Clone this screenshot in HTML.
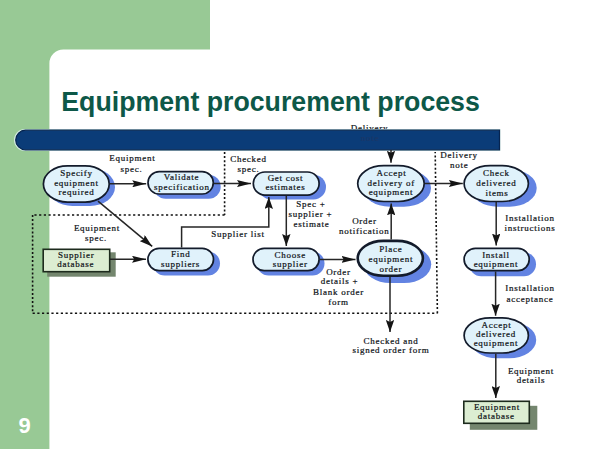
<!DOCTYPE html>
<html><head><meta charset="utf-8">
<style>
html,body{margin:0;padding:0;background:#fff;}
body{width:600px;height:449px;overflow:hidden;position:relative;}
svg{position:absolute;left:0;top:0;}
.t{font-family:"Liberation Serif",serif;font-size:9px;letter-spacing:0.75px;fill:#101418;text-anchor:middle;stroke:#101418;stroke-width:0.22px;}
.title{font-family:"Liberation Sans",sans-serif;font-weight:bold;font-size:26.5px;fill:#0d5848;}
.num{font-family:"Liberation Sans",sans-serif;font-weight:bold;font-size:22px;fill:#fff;}
.sh{fill:#6283e2;}
.nd{fill:#e0f2fb;stroke:#131b2b;stroke-width:1.7;}
.bx{fill:#dcedd2;stroke:#1d2b1d;stroke-width:1.6;}
.bsh{fill:#74866e;}
.ln{stroke:#262626;stroke-width:1.5;fill:none;}
.dt{stroke:#111;stroke-width:1.6;fill:none;}
.dh{stroke-dasharray:2.2 2.5;}
.dv{stroke-dasharray:2 2.1;}
</style></head><body>
<svg width="600" height="449" viewBox="0 0 600 449">
<defs>
<marker id="ahh" viewBox="0 0 14 7" refX="14" refY="3.5" markerWidth="14" markerHeight="7" markerUnits="userSpaceOnUse" orient="auto">
<path d="M0,0 L14,3.5 L0,7 L2.2,3.5 z" fill="#151515"/>
</marker>
<marker id="ahv" viewBox="0 0 12 8.4" refX="12" refY="4.2" markerWidth="12" markerHeight="8.4" markerUnits="userSpaceOnUse" orient="auto">
<path d="M0,0 L12,4.2 L0,8.4 L2,4.2 z" fill="#151515"/>
</marker>
<marker id="ahd" viewBox="0 0 13 8" refX="13" refY="4" markerWidth="13" markerHeight="8" markerUnits="userSpaceOnUse" orient="auto">
<path d="M0,0 L13,4 L0,8 L2,4 z" fill="#151515"/>
</marker>
</defs>
<!-- green frame -->
<path d="M0,0 H210 V49.5 H63.4 A14,14 0 0 0 49.4,63.5 V449 H0 Z" fill="#98c995"/>
<text class="num" x="18.6" y="433">9</text>
<!-- title -->
<text class="title" transform="translate(61.3,111.4) scale(1.008,1.075)" x="0" y="0">Equipment procurement process</text>
<!-- bar -->
<text class="t" x="369.5" y="130.8">Delivery</text>
<path d="M25,129 H500.5 V151 H25 A11,11 0 0 1 25,129 Z" fill="#d5eee6"/>
<path d="M25.5,130.2 H499.5 V149.8 H25.5 A9.8,9.8 0 0 1 25.5,130.2 Z" fill="#0b3c78" stroke="#062450" stroke-width="1.2"/>
<text class="t" x="370" y="141" style="fill:#1a3868;stroke:#1a3868">note</text>

<!-- dotted region -->
<line class="dt dv" x1="224.6" y1="152" x2="224.6" y2="215"/>
<line class="dt dh" x1="224.6" y1="215" x2="32.6" y2="215"/>
<line class="dt dv" x1="32.6" y1="215" x2="32.6" y2="313.2"/>
<line class="dt dh" x1="32.6" y1="313.2" x2="437.4" y2="313.2"/>
<line class="dt dv" x1="437.4" y1="313.2" x2="435.2" y2="152"/>

<!-- shadows -->
<rect class="sh" x="47.5" y="168.0" width="67.5" height="38.0" rx="25.0" ry="19.00"/>
<rect class="sh" x="153.7" y="174.8" width="67.0" height="24.0" rx="12.0" ry="12.00"/>
<rect class="sh" x="258.5" y="174.7" width="67.5" height="24.8" rx="12.4" ry="12.40"/>
<rect class="sh" x="152.7" y="251.6" width="67.3" height="24.0" rx="12.0" ry="12.00"/>
<rect class="sh" x="256.7" y="251.5" width="67.8" height="24.0" rx="12.0" ry="12.00"/>
<rect class="sh" x="362.8" y="169.3" width="68.2" height="37.5" rx="27.0" ry="18.75"/>
<rect class="sh" x="363.4" y="245.6" width="67.8" height="37.5" rx="27.0" ry="18.75"/>
<rect class="sh" x="470.7" y="169.3" width="66.0" height="37.5" rx="27.0" ry="18.75"/>
<rect class="sh" x="469.2" y="252.3" width="66.8" height="24.0" rx="12.0" ry="12.00"/>
<rect class="sh" x="470.2" y="321.5" width="66.0" height="36.8" rx="27.0" ry="18.40"/>
<!-- box shadows -->
<rect class="bsh" x="47.2" y="252.3" width="68.5" height="24.4"/>
<rect class="bsh" x="469.8" y="405.8" width="67.5" height="24.0"/>

<!-- connectors -->
<line class="ln" x1="110" y1="183.8" x2="146.2" y2="183.8" marker-end="url(#ahh)"/>
<line class="ln" x1="214" y1="183.6" x2="251" y2="183.6" marker-end="url(#ahh)"/>
<line class="ln" x1="98" y1="201.2" x2="152.2" y2="246.4" marker-end="url(#ahd)"/>
<line class="ln" x1="110" y1="259.3" x2="146" y2="259.3" marker-end="url(#ahh)"/>
<path class="ln" d="M181.6,247.6 V227 H268.8 V197" marker-end="url(#ahv)"/>
<line class="ln" x1="286.3" y1="196" x2="286.3" y2="246" marker-end="url(#ahv)"/>
<line class="ln" x1="320" y1="259.4" x2="355.5" y2="259.4" marker-end="url(#ahh)"/>
<line class="ln" x1="391.2" y1="239.6" x2="391.2" y2="203.4" marker-end="url(#ahv)"/>
<line class="ln" x1="390" y1="277" x2="390" y2="332" marker-end="url(#ahv)"/>
<line class="ln" x1="391" y1="150" x2="391" y2="162.8" marker-end="url(#ahv)"/>
<line class="ln" x1="425" y1="183.5" x2="462.8" y2="183.5" marker-end="url(#ahh)"/>
<line class="ln" x1="496.2" y1="202" x2="496.2" y2="245.5" marker-end="url(#ahv)"/>
<line class="ln" x1="495.6" y1="271.5" x2="495.6" y2="315.7" marker-end="url(#ahv)"/>
<line class="ln" x1="495.8" y1="353.8" x2="495.8" y2="398" marker-end="url(#ahv)"/>

<!-- nodes -->
<rect class="nd" x="43.4" y="165.8" width="65.8" height="36.3" rx="24.1" ry="18.15"/>
<rect class="nd" x="148.0" y="171.7" width="65.3" height="22.3" rx="11.2" ry="11.15"/>
<rect class="nd" x="253.3" y="172.0" width="65.8" height="23.1" rx="11.6" ry="11.55"/>
<rect class="nd" x="147.9" y="248.4" width="65.6" height="22.3" rx="11.2" ry="11.15"/>
<rect class="nd" x="253.0" y="248.3" width="66.1" height="22.3" rx="11.2" ry="11.15"/>
<rect class="nd" x="357.7" y="165.7" width="66.5" height="35.8" rx="26.1" ry="17.90"/>
<rect class="nd" x="357.7" y="240.9" width="65.2" height="34.9" rx="25.7" ry="17.45" style="stroke-width:2.6"/>
<rect class="nd" x="464.1" y="165.7" width="64.3" height="35.8" rx="26.1" ry="17.90"/>
<rect class="nd" x="464.1" y="248.3" width="65.1" height="22.3" rx="11.2" ry="11.15"/>
<rect class="nd" x="464.1" y="317.9" width="64.3" height="35.1" rx="26.1" ry="17.55"/>
<rect class="bx" x="43.2" y="249.3" width="66.5" height="22.4"/>
<rect class="bx" x="463.8" y="401.3" width="65.5" height="22.0"/>

<!-- node text -->
<text class="t" x="76.5" y="175.5">Specify</text>
<text class="t" x="76.5" y="185.5">equipment</text>
<text class="t" x="76.5" y="195.3">required</text>
<text class="t" x="181.5" y="180.3">Validate</text>
<text class="t" x="181.8" y="189.7">specification</text>
<text class="t" x="285.5" y="180.6">Get cost</text>
<text class="t" x="285.5" y="190.1">estimates</text>
<text class="t" x="180.8" y="257.2">Find</text>
<text class="t" x="180.5" y="266.7">suppliers</text>
<text class="t" x="290.3" y="258">Choose</text>
<text class="t" x="290.3" y="266.8">supplier</text>
<text class="t" x="391.6" y="175.7">Accept</text>
<text class="t" x="391.2" y="185.7">delivery of</text>
<text class="t" x="391" y="194.8">equipment</text>
<text class="t" x="390.8" y="251.7">Place</text>
<text class="t" x="390.9" y="262">equipment</text>
<text class="t" x="390.9" y="271.6">order</text>
<text class="t" x="496.3" y="175.7">Check</text>
<text class="t" x="496.3" y="186.2">delivered</text>
<text class="t" x="497" y="195.6">items</text>
<text class="t" x="496" y="257.7">Install</text>
<text class="t" x="496" y="267">equipment</text>
<text class="t" x="496.6" y="328.2">Accept</text>
<text class="t" x="496" y="337.3">delivered</text>
<text class="t" x="496" y="346.3">equipment</text>
<text class="t" x="76.3" y="258">Supplier</text>
<text class="t" x="75.8" y="266.8">database</text>
<text class="t" x="497" y="410">Equipment</text>
<text class="t" x="496.3" y="419.2">database</text>

<!-- labels -->
<text class="t" x="132.3" y="160.7">Equipment</text>
<text class="t" x="131.5" y="171.8">spec.</text>
<text class="t" x="248.5" y="162">Checked</text>
<text class="t" x="248.5" y="172">spec.</text>
<text class="t" x="97" y="230.5">Equipment</text>
<text class="t" x="96" y="240.5">spec.</text>
<text class="t" x="238" y="237">Supplier list</text>
<text class="t" x="311" y="207.2">Spec +</text>
<text class="t" x="310.5" y="217.2">supplier +</text>
<text class="t" x="311.5" y="227.4">estimate</text>
<text class="t" x="364.5" y="223.6">Order</text>
<text class="t" x="364.3" y="234.2">notification</text>
<text class="t" x="338.5" y="274.5">Order</text>
<text class="t" x="339.5" y="284.2">details +</text>
<text class="t" x="338.5" y="295">Blank order</text>
<text class="t" x="338.5" y="305">form</text>
<text class="t" x="459" y="157.8">Delivery</text>
<text class="t" x="459.3" y="167.5">note</text>
<text class="t" x="530" y="220.9">Installation</text>
<text class="t" x="530" y="230.7">instructions</text>
<text class="t" x="530" y="291">Installation</text>
<text class="t" x="530" y="301.5">acceptance</text>
<text class="t" x="391" y="344.3">Checked and</text>
<text class="t" x="391" y="353.4">signed order form</text>
<text class="t" x="531" y="373.8">Equipment</text>
<text class="t" x="531" y="383.2">details</text>
</svg>
</body></html>
